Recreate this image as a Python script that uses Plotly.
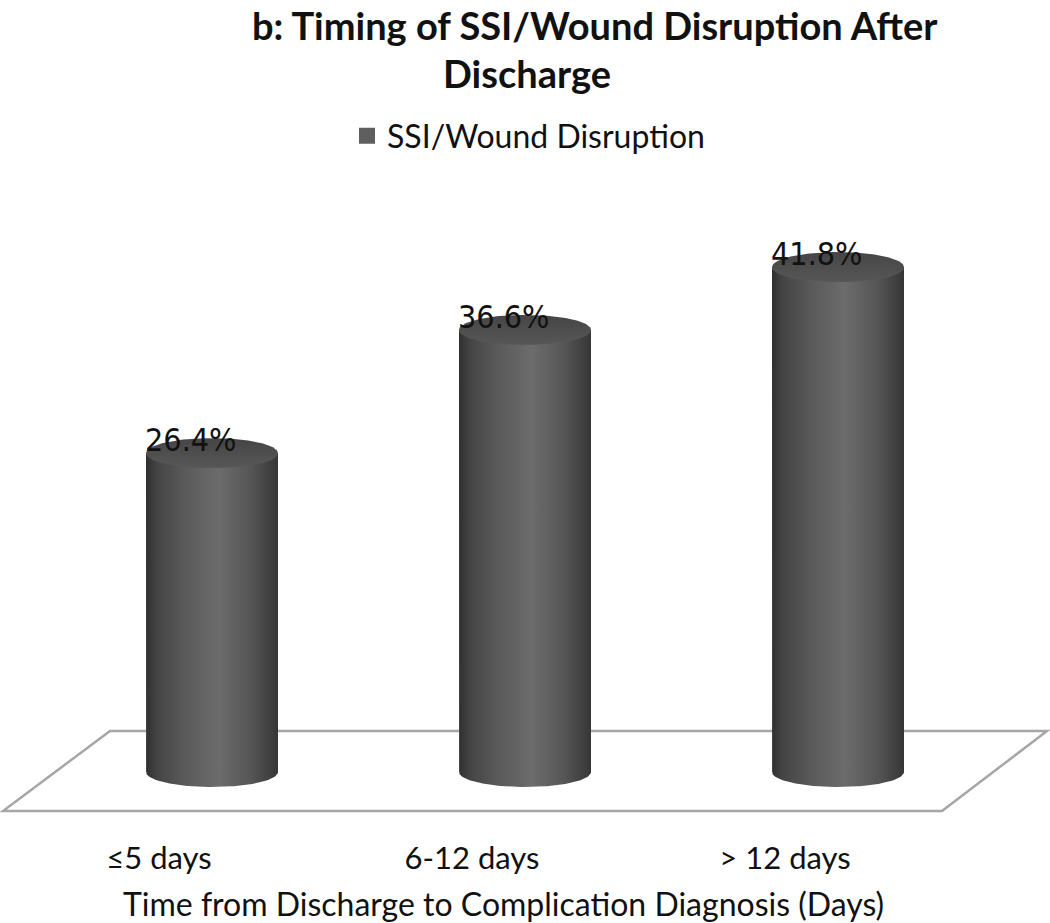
import numpy as np
import plotly.graph_objects as go

# ---------------- data ----------------
categories = ["≤5 days", "6-12 days", "> 12 days"]
values = [26.4, 36.6, 41.8]
value_labels = ["26.4%", "36.6%", "41.8%"]
series_name = "SSI/Wound Disruption"
title_line1 = "b: Timing of SSI/Wound Disruption After"
title_line2 = "Discharge"
x_title = "Time from Discharge to Complication Diagnosis (Days)"

# ---------------- layout geometry (reference-pixel space) ----------------
W, H = 1050, 923
OFF = 0                          # page body margin is removed by post_script
FW, FH = W - OFF, H - OFF        # figure size
PLOT_BOTTOM_PX = 815
ZERO_PX = 772
PX_PER_UNIT = 12.08
TICK0_PX = 159
CAT_PX = 313.0

x_range = [-(TICK0_PX - OFF) / CAT_PX, (W - TICK0_PX) / CAT_PX]
y_range = [-(PLOT_BOTTOM_PX - ZERO_PX) / PX_PER_UNIT, (ZERO_PX - OFF) / PX_PER_UNIT]
PLOT_H = PLOT_BOTTOM_PX - OFF

BAR_SHIFT = 53 / CAT_PX          # perspective offset of cylinders vs. labels
BAR_HALF = 66 / CAT_PX           # cylinder radius (x units)
ELL_B = 15 / PX_PER_UNIT         # ellipse half-height (y units)

FONT = "Lato, 'Open Sans', sans-serif"
NARROW = "'Liberation Sans Narrow', 'DejaVu Sans Condensed', Lato, sans-serif"

def paper_y(px):
    return (PLOT_BOTTOM_PX - px) / PLOT_H

def paper_x(px):
    return (px - OFF) / FW

fig = go.Figure()

xs = list(range(len(categories)))
BAR_COLOR = "#5f5f5f"

# base bars (carry the data)
fig.add_trace(go.Bar(
    x=xs, y=values, name=series_name,
    width=2 * BAR_HALF, offset=BAR_SHIFT - BAR_HALF,
    marker=dict(color=BAR_COLOR, line=dict(width=0)),
    showlegend=False, hoverinfo="skip",
))

body_scale = [[0.0, "#2f2f2f"], [0.08, "#444444"], [0.3, "#5a5a5a"],
              [0.55, "#6c6c6c"], [0.8, "#555555"], [0.95, "#3e3e3e"], [1.0, "#353535"]]
top_scale = [[0.0, "#575757"], [0.5, "#4e4e4e"], [1.0, "#454545"]]

t = np.linspace(0, np.pi, 80)
tf = np.linspace(0, 2 * np.pi, 160)
for i, v in enumerate(values):
    cx = xs[i] + BAR_SHIFT
    r = BAR_HALF
    bx = cx - r * np.cos(t)
    by = 0 - ELL_B * np.sin(t)
    tx = cx + r * np.cos(t)
    ty = v - ELL_B * np.sin(t)
    px = np.concatenate([[cx - r], bx, [cx + r], tx])
    py = np.concatenate([[v], by, [v], ty])
    fig.add_trace(go.Scatter(
        x=px, y=py, mode="lines", fill="toself", line=dict(width=0),
        fillgradient=dict(type="horizontal", colorscale=body_scale),
        showlegend=False, hoverinfo="skip",
    ))
    fig.add_trace(go.Scatter(
        x=cx + r * np.cos(tf), y=v + ELL_B * np.sin(tf), mode="lines",
        fill="toself", line=dict(width=0),
        fillgradient=dict(type="vertical", colorscale=top_scale),
        showlegend=False, hoverinfo="skip",
    ))

# legend entry for the series
fig.add_trace(go.Scatter(
    x=[None], y=[None], mode="markers", name=series_name,
    marker=dict(symbol="square", size=17, color=BAR_COLOR),
    showlegend=True, hoverinfo="skip",
))

annotations = []
for i, v in enumerate(values):
    annotations.append(dict(
        x=xs[i] + BAR_SHIFT, y=v, xref="x", yref="y", text=value_labels[i],
        showarrow=False, xshift=-22, yshift=13, xanchor="center", yanchor="middle",
        font=dict(family=NARROW, size=32, color="#111111"),
    ))

annotations += [
    dict(x=paper_x(595), y=paper_y(25), xref="paper", yref="paper", text=title_line1,
         showarrow=False, xanchor="center", yanchor="middle",
         font=dict(family=FONT, size=38, color="#111111", weight="bold")),
    dict(x=paper_x(527), y=paper_y(73), xref="paper", yref="paper", text=title_line2,
         showarrow=False, xanchor="center", yanchor="middle",
         font=dict(family=FONT, size=38, color="#111111", weight="bold")),
    dict(x=paper_x(503), y=paper_y(903), xref="paper", yref="paper", text=x_title,
         showarrow=False, xanchor="center", yanchor="middle",
         font=dict(family=FONT, size=32, color="#111111")),
]

# floor plane (corners in reference pixel space)
floor_px = [(110, 731), (1047, 731), (942, 811), (3, 811)]
floor_pts = [((x - TICK0_PX) / CAT_PX, (ZERO_PX - y) / PX_PER_UNIT) for x, y in floor_px]
path = "M " + " L ".join(f"{a},{b}" for a, b in floor_pts) + " Z"

fig.update_layout(
    width=FW, height=FH,
    margin=dict(l=0, r=0, t=0, b=FH - PLOT_H, pad=0),
    paper_bgcolor="white", plot_bgcolor="white",
    xaxis=dict(range=x_range, tickvals=xs, ticktext=categories, showgrid=False,
               zeroline=False, showline=False, ticks="outside", ticklen=16,
               tickcolor="rgba(0,0,0,0)",
               tickfont=dict(family=FONT, size=31, color="#111111"), fixedrange=True),
    yaxis=dict(range=y_range, visible=False, fixedrange=True),
    showlegend=True,
    legend=dict(x=paper_x(347), y=paper_y(136), xanchor="left", yanchor="middle",
                font=dict(family=FONT, size=32, color="#111111"),
                bgcolor="rgba(0,0,0,0)"),
    annotations=annotations,
    shapes=[dict(type="path", path=path, xref="x", yref="y", layer="below",
                 line=dict(color="#a6a6a6", width=2.5), fillcolor="white")],
    bargap=0,
)

fig.write_html("out.html",
               config={"displayModeBar": False, "staticPlot": True},
               post_script="document.body.style.margin='0';document.body.style.overflow='hidden';")
